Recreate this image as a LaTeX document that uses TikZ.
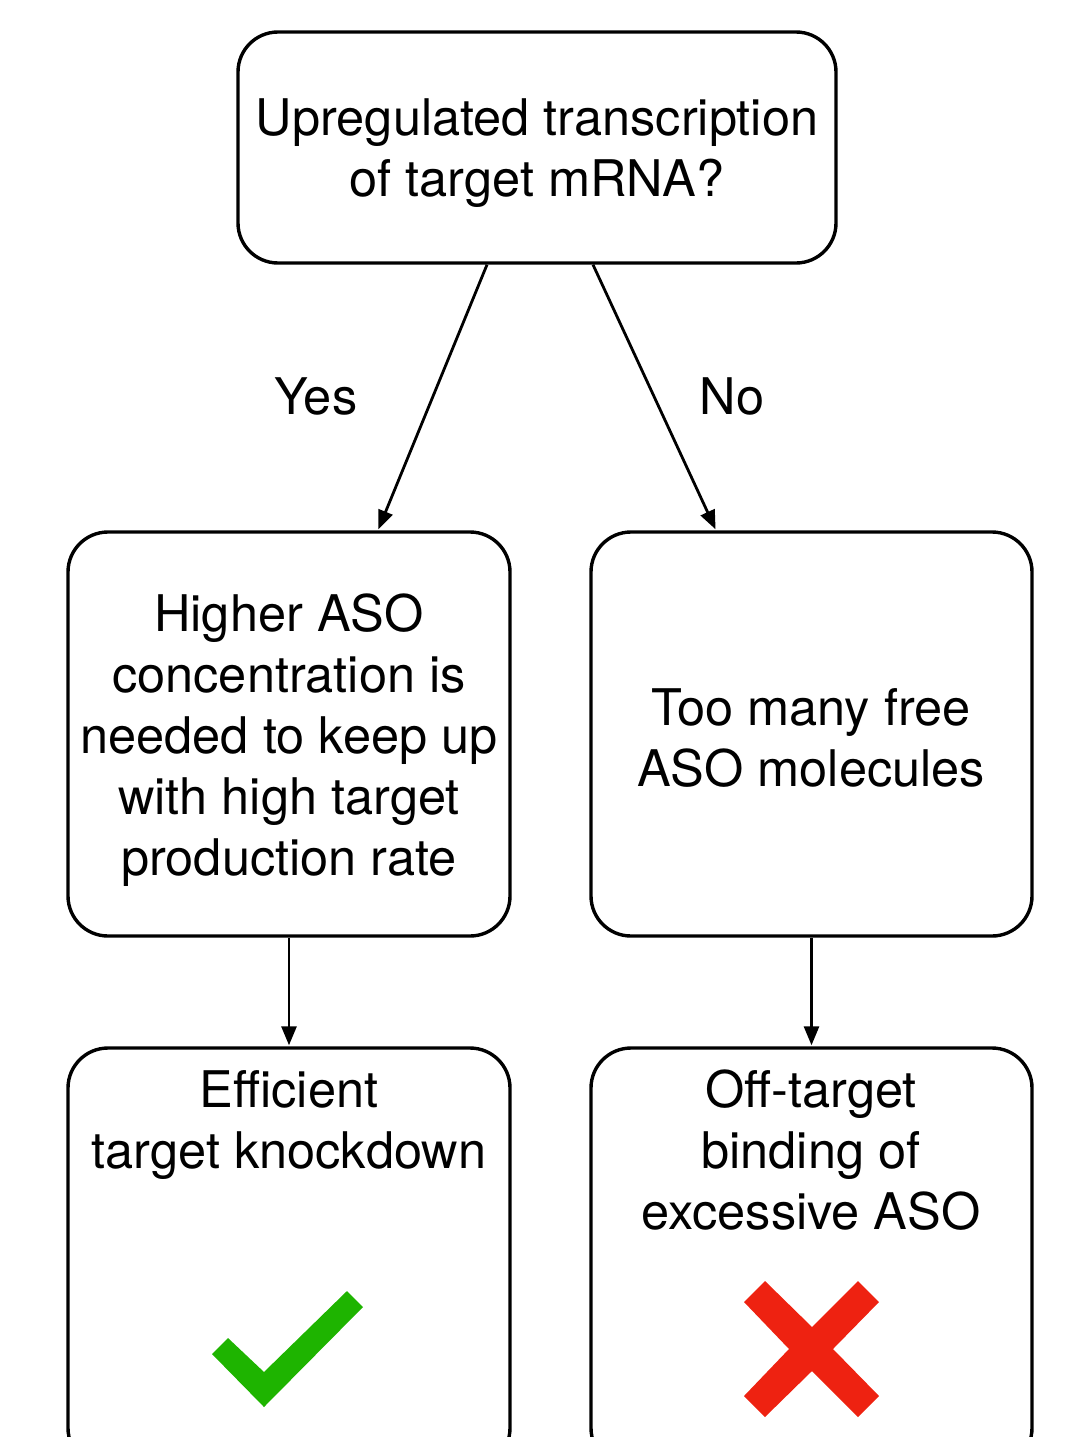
\documentclass[tikz,border=0pt]{standalone}
\usepackage{fontspec}
\setmainfont{TeX Gyre Heros}
\usetikzlibrary{arrows.meta}
\definecolor{okgreen}{RGB}{30,180,0}
\definecolor{badred}{RGB}{238,34,17}
\begin{document}
\begin{tikzpicture}[x=1pt,y=-1pt,
  box/.style={draw,line width=3.4pt,rounded corners=40pt,inner sep=0pt},
  lbl/.style={align=center,font=\fontsize{50.5}{61}\selectfont,inner sep=0pt},
  arr/.style={line width=2.8pt,-{Triangle[length=19pt,width=15pt]},shorten >=1pt}]
\useasboundingbox (0,0) rectangle (1082,1437);
\clip (0,0) rectangle (1082,1437);
% boxes
\node[box,minimum width=598pt,minimum height=231pt] (top) at (537,147.5) {};
\node[box,minimum width=442pt,minimum height=404pt] (yesbox) at (289,734) {};
\node[box,minimum width=441pt,minimum height=404pt] (nobox) at (811.5,734) {};
\node[box,minimum width=442pt,minimum height=420pt] (effbox) at (289,1258) {};
\node[box,minimum width=441pt,minimum height=420pt] (offbox) at (811.5,1258) {};
% texts
\node[lbl] (toptext) at (537,153) {Upregulated transcription\\of target mRNA?};
\node[lbl] (yestext) at (289,740) {Higher ASO\\concentration is\\needed to keep up\\with high target\\production rate};
\node[lbl] (notext) at (811,738) {Too many free\\ASO molecules};
\node[lbl,anchor=north] (efftext) at (289,1070) {Efficient\\target knockdown};
\node[lbl,anchor=north] (offtext) at (811,1070) {Off-target\\binding of\\excessive ASO};
\node[lbl] (yeslbl) at (316,396) {Yes};
\node[lbl] (nolbl) at (732,396) {No};
% connectors
\coordinate (ys) at ([xshift=-50pt]top.south);
\coordinate (ns) at ([xshift=56pt]top.south);
\coordinate (ye) at ([xshift=89pt]yesbox.north);
\coordinate (ne) at ([xshift=-95.5pt]nobox.north);
\draw[arr] (ys) -- (ye);
\draw[arr] (ns) -- (ne);
\draw[arr] (yesbox.south) -- (effbox.north);
\draw[arr] (nobox.south) -- (offbox.north);
% check mark
\fill[okgreen] (212,1354) -- (228,1338) -- (264,1372) -- (347,1291) -- (363,1307) -- (264,1407) -- cycle;
% cross
\fill[badred] (744,1302) -- (765,1281) -- (812,1327) -- (858,1281) -- (879,1302) -- (833,1349)
  -- (879,1396) -- (858,1417) -- (812,1371) -- (765,1417) -- (744,1396) -- (789,1349) -- cycle;
\end{tikzpicture}
\end{document}
